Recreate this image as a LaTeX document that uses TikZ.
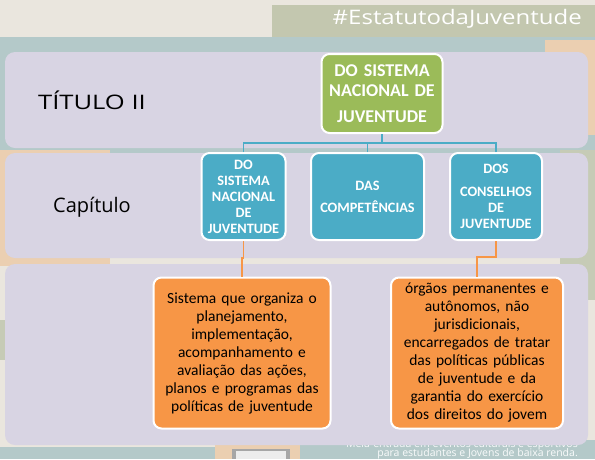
\documentclass[tikz,border=0pt]{standalone}
\usepackage{fontspec}
\setmainfont{Carlito}
\newfontfamily\handfont{Open Sans}
\usetikzlibrary{calc}
\definecolor{beigebg}{HTML}{EAE6DE}
\definecolor{olivebg}{HTML}{C3C7AF}
\definecolor{tealbg}{HTML}{B4C9C9}
\definecolor{orangebg}{HTML}{EBCFB1}
\definecolor{greenbg}{HTML}{C6CBB6}
\definecolor{panelc}{HTML}{D8D4E3}
\definecolor{greenbox}{HTML}{9BBB59}
\definecolor{bluebox}{HTML}{4BACC6}
\definecolor{orangebox}{HTML}{F79646}
\tikzset{
  panel/.style={fill=panelc, rounded corners=10pt},
  boxbase/.style={draw=white, line width=2pt, rounded corners=8pt, align=center, inner sep=2pt},
  greennode/.style={boxbase, fill=greenbox, text=white, font=\fontsize{18}{20}\selectfont\bfseries, minimum width=121pt, minimum height=79pt, text width=116pt},
  bluenode/.style={boxbase, fill=bluebox, text=white, font=\fontsize{14.3}{16}\selectfont\bfseries, minimum height=87pt},
  orangenode/.style={boxbase, fill=orangebox, text=black, font=\fontsize{15.5}{18}\selectfont, minimum height=151pt},
  blueline/.style={draw=bluebox, line width=1.6pt},
  orangeline/.style={draw=orangebox, line width=1.6pt},
  labeltext/.style={font=\handfont\fontsize{20}{24}\selectfont, text=black, inner sep=0pt},
  whitetext/.style={text=white, anchor=east, inner sep=0pt}
}
\begin{document}
\begin{tikzpicture}[x=1pt,y=-1pt]
\useasboundingbox (0,0) rectangle (595,459);
% background
\fill[beigebg] (0,0) rectangle (595,459);
\fill[olivebg] (272,5) rectangle (595,38);
\fill[tealbg] (0,37) rectangle (595,153);
\fill[orangebg] (545,40) rectangle (595,135);
\fill[orangebg] (0,150) rectangle (110,266);
\fill[greenbg] (560,150) rectangle (595,300);
\fill[greenbg] (0,320) rectangle (6,360);
\fill[tealbg] (0,447) rectangle (215,459);
\fill[orangebg] (215,440) rectangle (300,459);
\fill[tealbg] (300,440) rectangle (595,459);
\fill[gray!70] (232,449) rectangle (290,459);
\fill[white!85!gray] (236,451) rectangle (286,459);
\node[whitetext, font=\handfont\fontsize{20}{22}\selectfont] (tag) at (582,19) {\scalebox{1.2}[1]{\#EstatutodaJuventude}};
\node[whitetext, font=\handfont\fontsize{10.5}{12}\selectfont, text=white!92!tealbg] (foot0) at (578,444.5) {Meia-entrada em eventos culturais e esportivos};
\node[whitetext, font=\handfont\fontsize{10.5}{12}\selectfont, text=white!92!tealbg] (foot) at (578,454) {para estudantes e Jovens de baixa renda.};
% panels
\fill[panel] (5,52) rectangle (588,148);
\fill[panel] (5,153) rectangle (588,258);
\fill[panel] (5,264) rectangle (588,445);
% labels
\node[labeltext] (titulo) at (92,100) {\scalebox{1.28}[1]{TÍTULO II}};
\node[labeltext] (cap) at (92,207) {Capítulo};
% nodes
\node[greennode] (g) at (382,93.5) {DO SISTEMA\\[0pt] NACIONAL DE\\[6pt] JUVENTUDE};
\node[bluenode, minimum width=83pt, text width=80pt] (b1) at (243.5,196.5) {DO\\ SISTEMA\\ NACIONAL\\ DE\\ JUVENTUDE};
\node[bluenode, minimum width=113pt, text width=108pt] (b2) at (367.5,196.5) {DAS\\[6pt] COMPETÊNCIAS};
\node[bluenode, minimum width=92pt, text width=88pt] (b3) at (496,196.5) {DOS\\[7pt] CONSELHOS\\ DE\\ JUVENTUDE};
\node[orangenode, minimum width=177pt, text width=172pt] (o1) at (242,353) {Sistema que organiza o\\ planejamento,\\ implementação,\\ acompanhamento e\\ avaliação das ações,\\ planos e programas das\\ políticas de juventude};
\node[orangenode, minimum width=172pt, text width=168pt] (o2) at (477,353) {órgãos permanentes e\\ autônomos, não\\ jurisdicionais,\\ encarregados de tratar\\ das políticas públicas\\ de juventude e da\\ garantia do exercício\\ dos direitos do jovem};
% connectors
\coordinate (j) at (382,143);
\draw[blueline] (g.south) -- (j);
\draw[blueline] (b1.north) |- (j);
\draw[blueline] (b3.north) |- (j);
\draw[blueline] (b2.north) -- (b2.north |- j);
\coordinate (k1) at (242,258);
\draw[orangeline] (b1.south) |- (k1) -- (o1.north);
\coordinate (k2) at (477,257);
\draw[orangeline] (b3.south) |- (k2) -- (o2.north);
\end{tikzpicture}
\end{document}
